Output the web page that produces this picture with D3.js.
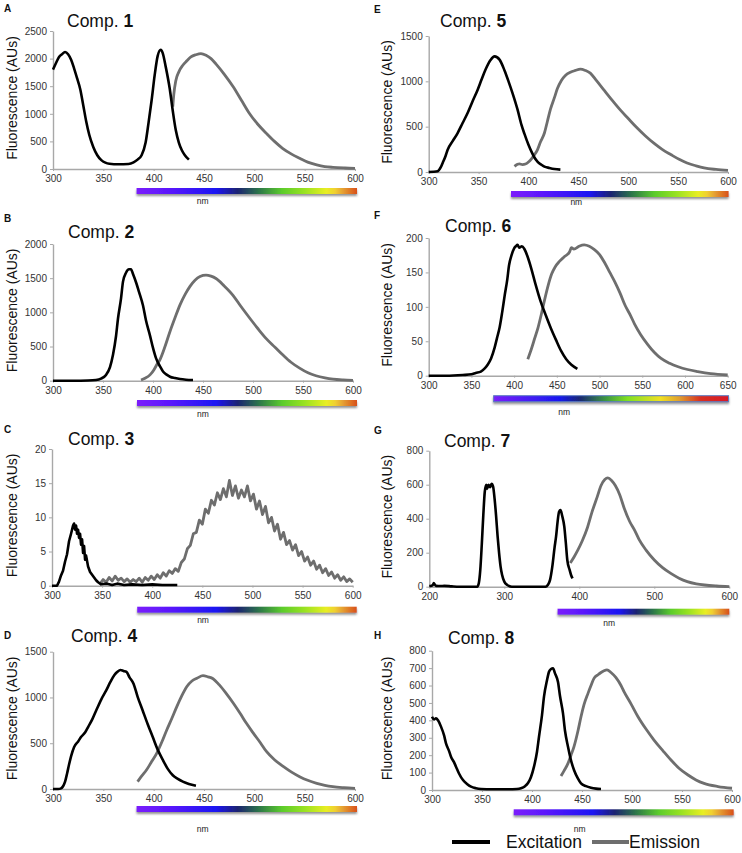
<!DOCTYPE html>
<html lang="en">
<head>
	<meta charset="utf-8">
	<title>Excitation and emission spectra</title>
	<style>
		body { margin: 0; background: #fff; font-family: "Liberation Sans", Arial, sans-serif; }
		svg text { font-family: "Liberation Sans", Arial, sans-serif; }
		.axis path, .axis line { stroke: #a8a8a8; }
		.axis path { stroke-width: 1.4px; }
		.axis text { fill: #333; font-size: 10px; }
	</style>
</head>
<body>
<svg id="chart"></svg>
<script src="https://cdn.jsdelivr.net/npm/d3@7"></script>
<script>
// ---- data: [wavelength nm, fluorescence AUs] ----
var comp1Ex = [[300,1800],[303,1920],[306,2030],[309,2080],[312,2120],[315,2080],[318,1980],[321,1820],[324,1640],[327,1450],[330,1160],[333,860],[336,620],[340,400],[344,250],[348,160],[352,115],[356,95],[365,85],[375,90],[380,120],[384,170],[388,250],[392,480],[395,850],[398,1250],[401,1700],[404,2050],[407,2160],[409,2100],[412,1850],[416,1450],[419,1050],[422,700],[425,480],[428,340],[431,250],[435,170]];
var comp1Em = [[419,1130],[420,1350],[422,1600],[425,1760],[429,1880],[433,1960],[437,2030],[442,2070],[447,2090],[452,2060],[457,2000],[462,1900],[470,1720],[479,1490],[487,1250],[495,1010],[503,820],[512,645],[520,500],[528,375],[537,270],[545,195],[553,125],[562,75],[570,45],[578,30],[590,18],[600,12]];

var comp2Ex = [[300,0],[320,0],[335,3],[343,10],[348,30],[353,85],[357,200],[360,380],[363,650],[365,910],[368,1200],[370,1450],[373,1580],[376,1630],[378,1630],[380,1560],[383,1440],[386,1300],[390,1100],[393,880],[397,660],[400,480],[403,330],[407,210],[410,135],[414,85],[417,58],[422,38],[427,24],[433,15],[440,10]];
var comp2Em = [[388,10],[392,35],[397,85],[401,160],[404,240],[407,310],[412,500],[417,720],[422,920],[427,1110],[432,1260],[437,1380],[442,1470],[447,1525],[453,1545],[458,1530],[463,1495],[471,1390],[480,1250],[488,1085],[497,910],[505,760],[513,620],[522,490],[530,375],[538,270],[547,180],[555,115],[563,72],[572,42],[580,24],[590,12],[600,5]];

var comp3Ex = [[300,0],[305,0],[307,0.6],[309,1.5],[311,2.2],[313,3.5],[315,4.6],[317,6.5],[319,7.6],[321,8.8],[322,9.1],[323,8.2],[324,8.8],[325,7.6],[326,8.2],[327,7.0],[328,7.6],[329,6.0],[330,6.8],[331,4.8],[332,5.8],[333,3.8],[334,4.4],[336,2.8],[338,2.0],[340,1.6],[342,1.2],[344,0.8],[346,0.5],[349,0.2],[355,0.3],[360,0.1],[365,0.3],[372,0.1],[380,0.2],[390,0.1],[400,0.2],[410,0.1],[425,0.1]];
var comp3Em = [[348,0.3],[351,0.9],[354,0.5],[357,1.2],[360,0.7],[363,1.4],[366,0.8],[369,1.1],[372,0.6],[375,1.0],[378,0.5],[381,0.9],[384,0.6],[387,1.1],[390,0.5],[393,1.2],[396,0.8],[399,1.4],[402,0.9],[405,1.6],[408,1.1],[411,1.9],[414,1.4],[417,2.2],[420,1.8],[423,2.5],[426,2.1],[429,3.4],[432,3.9],[435,5.4],[438,5.9],[441,7.6],[444,7.8],[447,9.6],[450,9.0],[453,11.2],[456,10.6],[459,12.5],[462,11.8],[465,13.6],[468,12.6],[471,14.2],[474,13.0],[477,15.4],[480,13.2],[483,14.6],[486,12.8],[489,14.0],[492,13.0],[495,14.6],[498,12.4],[501,13.4],[504,11.2],[507,12.4],[510,10.4],[513,11.6],[516,9.2],[519,10.0],[522,8.0],[525,9.0],[528,6.8],[531,7.8],[534,6.0],[537,6.6],[540,5.2],[543,6.0],[546,4.4],[549,5.0],[552,3.6],[555,4.2],[558,3.0],[561,3.6],[564,2.4],[567,3.0],[570,1.9],[573,2.5],[576,1.5],[579,2.0],[582,1.1],[585,1.6],[588,0.8],[591,1.3],[594,0.6],[597,1.0],[600,0.5]];

var comp4Ex = [[300,0],[305,0],[308,7],[310,30],[312,80],[314,170],[316,270],[318,360],[321,460],[325,520],[328,570],[332,620],[335,680],[339,760],[343,860],[348,980],[353,1080],[357,1170],[361,1245],[364,1280],[367,1300],[370,1290],[373,1280],[376,1220],[380,1150],[384,1010],[389,860],[394,710],[399,570],[404,430],[409,320],[414,220],[419,150],[424,110],[429,80],[435,55],[442,36]];
var comp4Em = [[384,80],[388,140],[393,210],[398,300],[403,390],[408,510],[413,645],[418,770],[423,900],[428,1020],[433,1120],[438,1180],[443,1210],[449,1238],[454,1225],[459,1205],[465,1140],[472,1045],[479,940],[486,825],[492,720],[499,610],[506,505],[512,410],[520,320],[529,245],[537,185],[545,135],[553,95],[562,62],[570,40],[578,25],[589,14],[600,7]];

var comp5Ex = [[300,0],[305,2],[309,8],[312,50],[314,100],[317,180],[319,245],[324,340],[329,430],[334,540],[339,650],[344,780],[349,905],[353,1020],[357,1130],[362,1235],[366,1275],[371,1240],[376,1120],[380,1000],[384,870],[389,690],[393,520],[396,420],[400,300],[403,225],[406,160],[409,115],[413,80],[416,60],[421,45],[426,33],[432,26]];
var comp5Em = [[386,62],[389,85],[391,90],[394,82],[397,88],[400,110],[403,145],[406,190],[409,245],[412,330],[416,430],[419,560],[422,690],[426,820],[429,920],[433,1010],[437,1065],[442,1100],[447,1120],[452,1135],[457,1120],[462,1090],[468,1010],[476,900],[484,790],[492,685],[500,590],[509,485],[517,400],[526,315],[534,250],[543,190],[551,140],[559,100],[568,68],[576,45],[588,28],[600,18]];

var comp6Ex = [[300,0],[320,0],[340,1],[350,2],[355,4],[361,6],[365,10],[369,16],[373,25],[377,40],[380,55],[383,70],[386,92],[389,117],[392,140],[394,160],[397,175],[400,185],[402,188],[404,190],[406,186],[409,188],[412,184],[416,172],[420,156],[425,133],[431,108],[437,88],[443,69],[449,52],[455,36],[461,24],[467,16],[474,10]];
var comp6Em = [[416,24],[420,38],[424,54],[428,70],[432,90],[436,112],[440,132],[444,148],[448,158],[453,166],[459,173],[465,180],[467,186],[470,184],[476,188],[482,190],[488,188],[494,183],[500,176],[506,164],[512,150],[518,136],[524,120],[530,102],[536,88],[541,75],[548,60],[556,46],[564,34],[572,25],[582,18],[592,13],[603,9],[615,6],[630,3],[650,1]];

var comp7Ex = [[200,4],[203,6],[205,12],[206,22],[207,14],[209,5],[215,4],[220,5],[230,2],[240,0],[264,0],[266,20],[268,100],[270,250],[272,420],[274,560],[276,600],[277,575],[279,600],[281,585],[283,605],[285,590],[287,520],[289,420],[291,300],[293,200],[295,120],[297,70],[300,30],[304,10],[310,0],[355,0],[358,10],[361,40],[364,118],[367,230],[369,294],[371,380],[373,441],[375,451],[377,420],[380,353],[382,260],[384,157],[387,100],[389,69],[391,49]];
var comp7Em = [[388,140],[393,175],[398,215],[404,270],[411,350],[417,440],[424,530],[429,595],[434,630],[438,640],[443,625],[448,595],[454,540],[460,460],[467,385],[474,330],[480,275],[489,215],[500,157],[511,112],[522,78],[533,50],[544,30],[556,17],[567,10],[583,4],[600,0]];

var comp8Ex = [[300,421],[302,405],[304,412],[306,400],[309,364],[312,315],[314,268],[317,225],[319,191],[322,160],[324,134],[327,95],[331,57],[335,35],[339,19],[344,10],[349,6],[360,4],[372,4],[385,6],[389,10],[393,22],[396,40],[399,75],[402,134],[405,220],[407,306],[410,430],[412,536],[415,630],[417,679],[419,695],[421,699],[423,670],[426,620],[428,540],[431,440],[433,340],[436,249],[439,170],[442,115],[446,65],[449,38],[454,22],[459,13],[464,8],[469,6]];
var comp8Em = [[429,80],[432,110],[436,153],[439,200],[442,249],[446,340],[449,421],[452,490],[456,555],[459,600],[462,641],[466,662],[469,675],[472,685],[475,690],[479,675],[484,645],[489,600],[492,565],[499,495],[506,421],[514,350],[522,287],[531,225],[539,172],[547,125],[556,86],[564,58],[572,38],[586,20],[600,10]];

// tick values
var xTicks300to600 = [300,350,400,450,500,550,600];
var xTicks300to650 = [300,350,400,450,500,550,600,650];
var xTicks200to600 = [200,300,400,500,600];
var yTicks1 = [0,500,1000,1500,2000,2500];
var yTicks2 = [0,500,1000,1500,2000];
var yTicks3 = [0,5,10,15,20];
var yTicks4 = [0,500,1000,1500];
var yTicks6 = [0,50,100,150,200];
var yTicks7 = [0,200,400,600,800];
var yTicks8 = [0,100,200,300,400,500,600,700,800];

var legendLabels = ["Excitation", "Emission"];

// ---- layout of each panel (pixels) ----
var panels = [
	{ letter: "A", comp: "1", ex: comp1Ex, em: comp1Em, xDom: [300,600], xTicks: xTicks300to600, yDom: [0,2500], yTicks: yTicks1,
	  left: 53, right: 355, top: 31, bottom: 169, letterY: 12, titleX: 67, titleY: 27, ylabX: 17, bar: [383,602], barDy: 19, nmDy: 16, spec: "std" },
	{ letter: "B", comp: "2", ex: comp2Ex, em: comp2Em, xDom: [300,600], xTicks: xTicks300to600, yDom: [0,2000], yTicks: yTicks2,
	  left: 53, right: 353, top: 244, bottom: 380.7, letterY: 222, titleX: 68, titleY: 238, ylabX: 17, bar: [384,604], barDy: 19.3, nmDy: 17, spec: "std" },
	{ letter: "C", comp: "3", ex: comp3Ex, em: comp3Em, xDom: [300,600], xTicks: xTicks300to600, yDom: [0,20], yTicks: yTicks3,
	  left: 52, right: 352.7, top: 449, bottom: 585.7, letterY: 433, titleX: 68, titleY: 445, ylabX: 17, bar: [385,604], barDy: 21, nmDy: 16, spec: "std", linear: true },
	{ letter: "D", comp: "4", ex: comp4Ex, em: comp4Em, xDom: [300,600], xTicks: xTicks300to600, yDom: [0,1500], yTicks: yTicks4,
	  left: 53, right: 355, top: 651.7, bottom: 789, letterY: 638.5, titleX: 71, titleY: 642, ylabX: 17, bar: [383,602], barDy: 17, nmDy: 25.7, spec: "std" },
	{ letter: "E", comp: "5", ex: comp5Ex, em: comp5Em, xDom: [300,600], xTicks: xTicks300to600, yDom: [0,1500], yTicks: yTicks4,
	  left: 428.7, right: 728, top: 36, bottom: 172, letterY: 12.7, titleX: 440, titleY: 27, ylabX: 392, bar: [382.5,600.6], barDy: 19, nmDy: 14, spec: "std" },
	{ letter: "F", comp: "6", ex: comp6Ex, em: comp6Em, xDom: [300,650], xTicks: xTicks300to650, yDom: [0,200], yTicks: yTicks6,
	  left: 428.7, right: 727.7, top: 238, bottom: 375.7, letterY: 218.5, titleX: 445, titleY: 232, ylabX: 392, bar: [376,651], barDy: 20, nmDy: 19, spec: "wide" },
	{ letter: "G", comp: "7", ex: comp7Ex, em: comp7Em, xDom: [200,600], xTicks: xTicks200to600, yDom: [0,800], yTicks: yTicks7,
	  left: 429.3, right: 729.3, top: 450.7, bottom: 586.7, letterY: 433.5, titleX: 444, titleY: 447, ylabX: 392, bar: [371,600], barDy: 22, nmDy: 17.7, spec: "std" },
	{ letter: "H", comp: "8", ex: comp8Ex, em: comp8Em, xDom: [300,600], xTicks: xTicks300to600, yDom: [0,800], yTicks: yTicks8,
	  left: 432, right: 732, top: 650.7, bottom: 790, letterY: 638.5, titleX: 448, titleY: 643.5, ylabX: 392, bar: [381.7,601.7], barDy: 19.3, nmDy: 22.4, spec: "std" }
];

var width = 742, height = 853;

var svg = d3.select("#chart")
	.attr("width", width)
	.attr("height", height);

var defs = svg.append("defs");

// spectrum gradients
var stdStops = [
	[0, "#7b1efb"], [0.15, "#5a18fc"], [0.36, "#1a14f2"], [0.46, "#1c2470"],
	[0.56, "#2e7a48"], [0.66, "#5ccc2c"], [0.76, "#98e222"], [0.86, "#e8ee24"],
	[0.9, "#f0d030"], [0.94, "#e49a30"], [1, "#d8501a"]
];
var wideStops = [
	[0, "#7a20f8"], [0.28, "#1818f0"], [0.37, "#1a2a70"], [0.48, "#3e9a40"],
	[0.57, "#80e020"], [0.71, "#f0e020"], [0.79, "#e0a030"], [0.88, "#d83020"], [1, "#d81828"]
];

function addGradient(id, stops) {
	var g = defs.append("linearGradient").attr("id", id)
		.attr("x1", "0%").attr("x2", "100%").attr("y1", "0%").attr("y2", "0%");
	g.selectAll("stop").data(stops).enter().append("stop")
		.attr("offset", function(d) { return d[0]; })
		.attr("stop-color", function(d) { return d[1]; });
}
addGradient("spec-std", stdStops);
addGradient("spec-wide", wideStops);

var shadow = defs.append("filter").attr("id", "barShadow")
	.attr("x", "-5%").attr("y", "-50%").attr("width", "110%").attr("height", "250%");
shadow.append("feDropShadow")
	.attr("dx", 0).attr("dy", 2).attr("stdDeviation", 1.2)
	.attr("flood-color", "#777").attr("flood-opacity", 0.8);

var fmt = d3.format("d");

panels.forEach(function(p) {

	var x = d3.scaleLinear().domain(p.xDom).range([p.left, p.right]);
	var y = d3.scaleLinear().domain(p.yDom).range([p.bottom, p.top]);

	var g = svg.append("g");

	// panel letter
	g.append("text")
		.attr("x", p.left < 200 ? 4 : 374)
		.attr("y", p.letterY)
		.attr("font-size", "10px")
		.attr("font-weight", "bold")
		.attr("fill", "#111")
		.text(p.letter);

	// title
	var t = g.append("text")
		.attr("x", p.titleX)
		.attr("y", p.titleY)
		.attr("font-size", "17.5px")
		.attr("fill", "#111");
	t.append("tspan").text("Comp. ");
	t.append("tspan").attr("font-weight", "bold").text(p.comp);

	// axes
	g.append("g")
		.attr("class", "axis")
		.attr("transform", "translate(" + p.left + ",0)")
		.call(d3.axisLeft(y).tickValues(p.yTicks).tickFormat(fmt).tickSize(3).tickSizeOuter(0).tickPadding(3));

	g.append("g")
		.attr("class", "axis")
		.attr("transform", "translate(0," + p.bottom + ")")
		.call(d3.axisBottom(x).tickValues(p.xTicks).tickFormat(fmt).tickSize(2).tickSizeOuter(0).tickPadding(4));

	// y axis title
	g.append("text")
		.attr("transform", "translate(" + p.ylabX + "," + ((p.top + p.bottom) / 2 - 2) + ") rotate(-90)")
		.attr("text-anchor", "middle")
		.attr("font-size", "14px")
		.attr("fill", "#111")
		.text("Fluorescence (AUs)");

	// curves
	var line = d3.line()
		.x(function(d) { return x(d[0]); })
		.y(function(d) { return y(d[1]); })
		.curve(p.linear ? d3.curveLinear : d3.curveMonotoneX);

	g.append("path")
		.datum(p.em)
		.attr("d", line)
		.attr("fill", "none")
		.attr("stroke", "#6e6e6e")
		.attr("stroke-width", 2.8)
		.attr("stroke-linejoin", "round");

	g.append("path")
		.datum(p.ex)
		.attr("d", line)
		.attr("fill", "none")
		.attr("stroke", "#000")
		.attr("stroke-width", 2.6)
		.attr("stroke-linejoin", "round");

	// spectrum bar
	var by = p.bottom + p.barDy;
	g.append("rect")
		.attr("x", x(p.bar[0]))
		.attr("y", by)
		.attr("width", x(p.bar[1]) - x(p.bar[0]))
		.attr("height", 6)
		.attr("fill", "url(#spec-" + p.spec + ")")
		.attr("stroke", p.spec === "wide" ? "#5d7dc4" : "none")
		.attr("stroke-width", 1)
		.attr("filter", "url(#barShadow)");

	g.append("text")
		.attr("x", x(p.bar[0]) + (x(p.bar[1]) - x(p.bar[0])) * 0.3)
		.attr("y", by + p.nmDy)
		.attr("text-anchor", "middle")
		.attr("font-size", "8.5px")
		.attr("fill", "#222")
		.text("nm");
});

// legend
var legend = svg.append("g");
legend.append("line")
	.attr("x1", 452).attr("x2", 490).attr("y1", 842).attr("y2", 842)
	.attr("stroke", "#000").attr("stroke-width", 4);
legend.append("text")
	.attr("x", 506).attr("y", 848)
	.attr("font-size", "17.5px").attr("fill", "#111")
	.text(legendLabels[0]);
legend.append("line")
	.attr("x1", 592).attr("x2", 629).attr("y1", 842).attr("y2", 842)
	.attr("stroke", "#6e6e6e").attr("stroke-width", 4);
legend.append("text")
	.attr("x", 629).attr("y", 848)
	.attr("font-size", "17.5px").attr("fill", "#111")
	.text(legendLabels[1]);
</script>
</body>
</html>
